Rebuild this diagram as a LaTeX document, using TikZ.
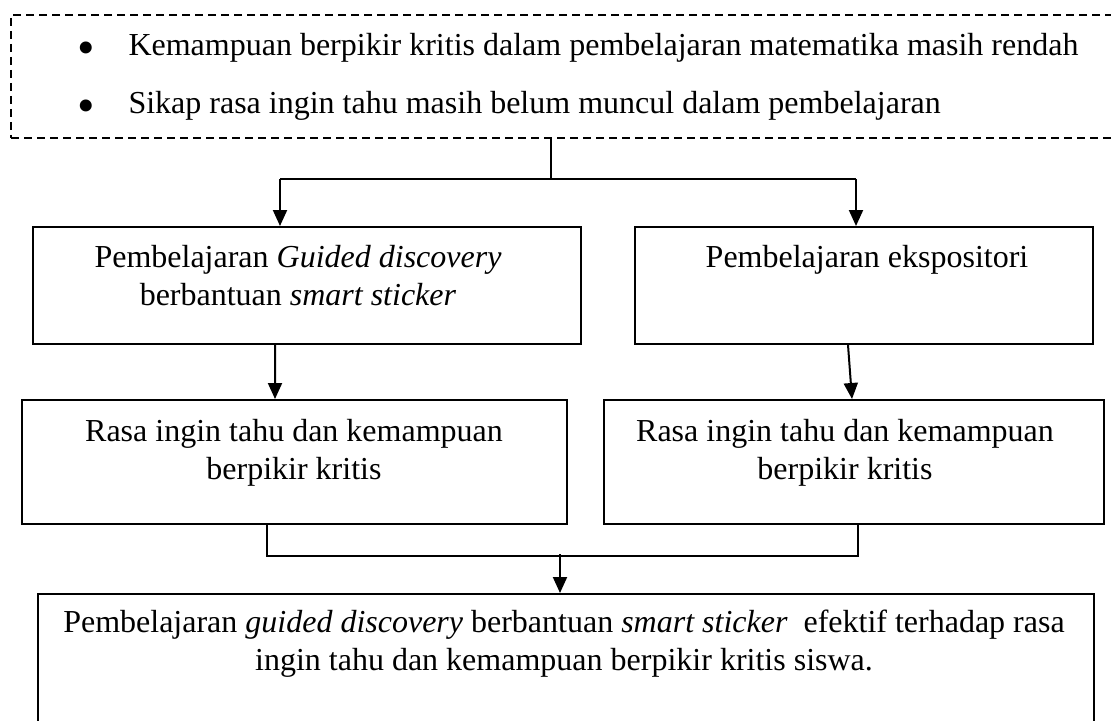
\documentclass[tikz,border=0pt]{standalone}
\usepackage{fontspec}
\setmainfont{Liberation Serif}
\usetikzlibrary{arrows.meta,positioning}
\definecolor{kfInk}{HTML}{000000}

\begin{document}
\begin{tikzpicture}[x=0.4pt,y=-0.4pt,
    box/.style={draw=kfInk,line width=0.8pt,anchor=north west,inner sep=0pt},
    boxtxt/.style={inner sep=0pt,align=center,anchor=base,
      font=\fontsize{12.8}{15.2}\selectfont,text=kfInk},
    dotmark/.style={inner sep=0pt,anchor=base,font=\fontsize{20}{20}\selectfont,text=kfInk},
    flow/.style={draw=kfInk,line width=0.8pt},
    flowarr/.style={flow,-{Triangle[length=6.4pt,width=5.6pt]}}]
  \useasboundingbox (0,0) rectangle (1111,720);

  % masalah
  \node[box,dash pattern=on 3.2pt off 2pt,minimum width=448pt,minimum height=49.2pt]
    (issue) at (10,14) {};
  \node[boxtxt,anchor=base west] (item1) at (128,55)
    {Kemampuan berpikir kritis dalam pembelajaran matematika masih rendah};
  \node[boxtxt,anchor=base west] (item2) at (128,113)
    {Sikap rasa ingin tahu masih belum muncul dalam pembelajaran};
  \node[dotmark] (dot1) at (86,64) {\textbullet};
  \node[dotmark] (dot2) at (86,122) {\textbullet};

  % perlakuan
  \node[box,minimum width=219.2pt,minimum height=46.8pt] (gdl) at (32,226) {};
  \node[box,minimum width=183.2pt,minimum height=46.8pt] (eks) at (634,226) {};
  \node[boxtxt] (gdltxt) at (298,305)
    {Pembelajaran \textit{Guided discovery}\\berbantuan \textit{smart sticker}};
  \node[boxtxt] (ekstxt) at (867,267) {Pembelajaran ekspositori};

  % hasil
  \node[box,minimum width=218pt,minimum height=49.6pt] (res1) at (21,399) {};
  \node[box,minimum width=200pt,minimum height=49.6pt] (res2) at (603,399) {};
  \node[boxtxt] (res1txt) at (294,479)
    {Rasa ingin tahu dan kemampuan\\berpikir kritis};
  \node[boxtxt] (res2txt) at (845,479)
    {Rasa ingin tahu dan kemampuan\\berpikir kritis};

  % kesimpulan
  \node[box,minimum width=422.4pt,minimum height=72pt] (concl) at (37,593) {};
  \node[boxtxt] (concltxt) at (564,670)
    {Pembelajaran \textit{guided discovery} berbantuan \textit{smart sticker}\ \ efektif terhadap rasa\\
     ingin tahu dan kemampuan berpikir kritis siswa.};

  \coordinate (split) at (551,179);
  \coordinate (splitL) at (280,179);
  \coordinate (splitR) at (856,179);
  \coordinate (join) at (560,554);

  \draw[flow] (split |- issue.south) -- (split);
  \draw[flow] (splitL) -- (splitR);
  \draw[flowarr] (splitL) -- (splitL |- gdl.north);
  \draw[flowarr] (splitR) -- (splitR |- eks.north);
  \draw[flowarr] ([xshift=97.2pt]gdl.south west) -- ([xshift=101.6pt]res1.north west);
  \draw[flowarr] ([xshift=85.6pt]eks.south west) -- ([xshift=99.6pt]res2.north west);
  \draw[flow] ([xshift=98.4pt]res1.south west) -- ++(0,31) -| ([xshift=102pt]res2.south west);
  \draw[flowarr] (join) -- (join |- concl.north);
\end{tikzpicture}
\end{document}
